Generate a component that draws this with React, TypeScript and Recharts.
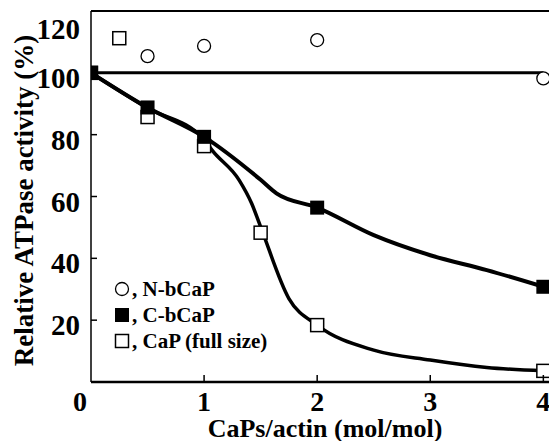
import React from "react";
import { ComposedChart, Line, Scatter, XAxis, YAxis, ReferenceLine } from "recharts";

const serif = '"Liberation Serif", "Times New Roman", serif';

const xTicks = [0, 1, 2, 3, 4];
const yTicks = [20, 40, 60, 80, 100, 120];

// N-bCaP, open circles
const nbX = [0.5, 1, 2, 4];
const nbY = [105.4, 108.7, 110.6, 98.2];
// C-bCaP, filled squares
const cbX = [0, 0.5, 1, 2, 4];
const cbY = [100, 88.8, 79.3, 56.4, 30.8];
// CaP (full size), open squares
const capX = [0, 0.25, 0.5, 1, 1.5, 2, 4];
const capY = [100, 111.2, 85.7, 76.3, 48.3, 18.4, 3.6];

// fitted curves
const cbCurveX = [0, 0.5, 1, 1.5, 1.64, 2, 2.5, 3, 3.5, 4];
const cbCurveY = [100, 88.8, 79.3, 65.4, 61, 56.4, 47.5, 41, 36.2, 30.8];
const capCurveX = [0, 0.5, 1, 1.07, 1.31, 1.42, 1.5, 1.75, 2, 2.5, 3, 3.5, 4];
const capCurveY = [100, 88.6, 78.5, 75, 65.3, 57.8, 50.2, 27, 18.4, 10.3, 7.1, 4.7, 3.6];
// 100% reference line
const refX = [0, 4];
const refY = [100, 100];

const zip = (xs: number[], ys: number[]) => xs.map((x, i) => ({ x, y: ys[i] }));

const nbData = zip(nbX, nbY);
const cbData = zip(cbX, cbY);
const capData = zip(capX, capY);
const cbCurve = zip(cbCurveX, cbCurveY);
const capCurve = zip(capCurveX, capCurveY);
const refLine = zip(refX, refY);

const YTick = (props: any) => {
  const { x, y, payload } = props;
  const ly = Math.max(y + 5, 29);
  return (
    <g>
      <line x1={x} x2={x + 6} y1={y} y2={y} stroke="#000" strokeWidth={1.5} />
      <text x={x - 11} y={ly} textAnchor="end" dominantBaseline="central"
        fontFamily={serif} fontWeight="bold" fontSize={29} fill="#000">
        {payload.value}
      </text>
    </g>
  );
};

const XTick = (props: any) => {
  const { x, y, payload } = props;
  const v = payload.value;
  return (
    <g>
      {v !== 0 && <line x1={x} x2={x} y1={y} y2={y - 7} stroke="#000" strokeWidth={1.5} />}
      <text x={v === 0 ? x - 11 : x} y={y + 19} textAnchor="middle" dominantBaseline="central"
        fontFamily={serif} fontWeight="bold" fontSize={28} fill="#000">
        {v}
      </text>
    </g>
  );
};

const OpenCircle = (p: any) => (
  <circle cx={p.cx} cy={p.cy} r={6.5} fill="#fff" stroke="#000" strokeWidth={1.3} />
);
const FilledSquare = (p: any) => (
  <rect x={p.cx - 7} y={p.cy - 7} width={14} height={14} fill="#000" />
);
const OpenSquare = (p: any) => (
  <rect x={p.cx - 6.5} y={p.cy - 6.5} width={13} height={13} fill="#fff" stroke="#000" strokeWidth={1.5} />
);

const legendRows = [
  { kind: "circle", label: ", N-bCaP" },
  { kind: "filled", label: ", C-bCaP" },
  { kind: "open", label: ", CaP (full size)" },
];

function LegendBox() {
  return (
    <div style={{ position: "absolute", left: 114, top: 276, fontFamily: serif, fontWeight: "bold", fontSize: 21, lineHeight: "26px" }}>
      {legendRows.map((r) => (
        <div key={r.label} style={{ display: "flex", alignItems: "center", height: 26 }}>
          <svg width={16} height={16}>
            {r.kind === "circle" && <circle cx={8} cy={8} r={6.5} fill="#fff" stroke="#000" strokeWidth={1.3} />}
            {r.kind === "filled" && <rect x={1} y={1} width={14} height={14} fill="#000" />}
            {r.kind === "open" && <rect x={1.5} y={1.5} width={13} height={13} fill="#fff" stroke="#000" strokeWidth={1.5} />}
          </svg>
          <span style={{ marginLeft: 2 }}>{r.label}</span>
        </div>
      ))}
    </div>
  );
}

export default function App() {
  return (
    <div style={{ position: "absolute", left: 0, top: 0, width: 549, height: 441, background: "#fff", overflow: "hidden" }}>
      <ComposedChart width={549} height={441} margin={{ top: 11, right: 0, bottom: 0, left: 0 }}>
        <XAxis
          type="number"
          dataKey="x"
          domain={[0, 4.05]}
          ticks={xTicks}
          allowDataOverflow
          height={59}
          tickSize={0}
          tickMargin={0}
          tickLine={false}
          axisLine={{ stroke: "#000", strokeWidth: 2.5 }}
          tick={<XTick />}
          label={{
            content: (p: any) => (
              <text x={p.viewBox.x + p.viewBox.width / 2 + 5} y={p.viewBox.y + 46} textAnchor="middle"
                dominantBaseline="central" fontFamily={serif} fontWeight="bold" fontSize={26} fill="#000">
                CaPs/actin (mol/mol)
              </text>
            ),
          }}
        />
        <YAxis
          type="number"
          dataKey="y"
          domain={[0, 120]}
          ticks={yTicks}
          allowDataOverflow
          width={91}
          tickSize={0}
          tickMargin={0}
          tickLine={false}
          axisLine={{ stroke: "#000", strokeWidth: 1.5 }}
          tick={<YTick />}
          label={{
            content: (p: any) => {
              const cx = 24;
              const cy = p.viewBox.y + p.viewBox.height / 2 + 4;
              return (
                <text x={cx} y={cy} transform={`rotate(-90 ${cx} ${cy})`} textAnchor="middle"
                  dominantBaseline="central" fontFamily={serif} fontWeight="bold" fontSize={27} fill="#000">
                  Relative ATPase activity (%)
                </text>
              );
            },
          }}
        />
        <ReferenceLine y={120} stroke="#000" strokeWidth={2} />
        <Line data={refLine} dataKey="y" type="linear" stroke="#000" strokeWidth={3} dot={false} isAnimationActive={false} />
        <Line data={capCurve} dataKey="y" type="monotone" stroke="#000" strokeWidth={3.5} dot={false} isAnimationActive={false} />
        <Line data={cbCurve} dataKey="y" type="monotone" stroke="#000" strokeWidth={4} dot={false} isAnimationActive={false} />
        <Scatter data={nbData} dataKey="y" shape={<OpenCircle />} isAnimationActive={false} />
        <Scatter data={capData} dataKey="y" shape={<OpenSquare />} isAnimationActive={false} />
        <Scatter data={cbData} dataKey="y" shape={<FilledSquare />} isAnimationActive={false} />
      </ComposedChart>
      <LegendBox />
    </div>
  );
}
